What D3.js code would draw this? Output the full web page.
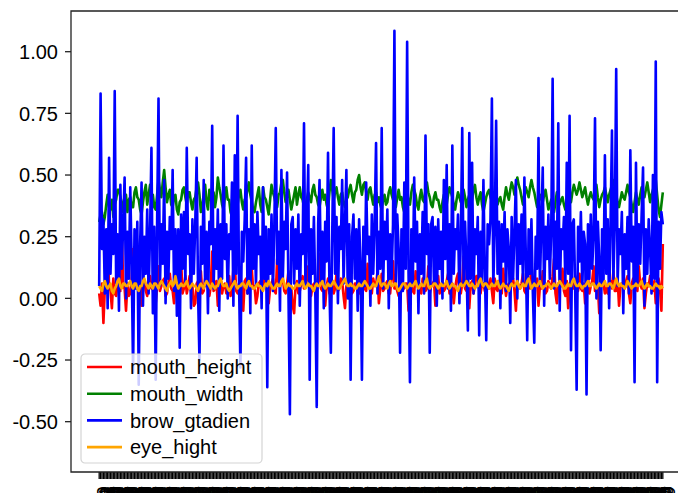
<!DOCTYPE html>
<html>
<head>
<meta charset="utf-8">
<script src="https://cdn.jsdelivr.net/npm/d3@7"></script>
<style>
  body { margin: 0; background: #fff; }
  svg { display: block; font-family: "Liberation Sans", Arial, sans-serif; }
</style>
</head>
<body>
<svg id="chart" width="678" height="493"></svg>
<script>
// Series values, one entry per frame (400 frames)
const mouthHeight = [
  0.02, -0.03, 0.06, -0.10, 0.04, 0.10, 0.24, 0.05, 0.03, -0.04, 0.08, 0.02, 0.01, 0.06, 0.12, 0.03, 0.28, 0.05, 0.04, -0.05,
  0.06, 0.01, 0.02, 0.08, 0.20, 0.04, 0.05, 0.10, 0.17, 0.02, -0.03, 0.06, 0.07, 0.03, 0.01, 0.09, 0.09, 0.04, 0.04, -0.02,
  -0.02, 0.05, 0.13, 0.03, 0.05, 0.07, 0.08, 0.01, 0.02, 0.06, 0.10, 0.04, 0.03, -0.02, 0.06, 0.08, -0.04, 0.05, 0.15, 0.02,
  0.04, 0.09, 0.02, 0.05, 0.09, 0.03, 0.05, -0.03, -0.02, 0.06, 0.07, 0.04, 0.11, 0.02, 0.03, 0.08, 0.06, 0.04, 0.01, 0.05,
  0.19, 0.03, 0.04, 0.07, -0.03, 0.05, 0.08, 0.02, 0.05, 0.06, 0.02, 0.04, 0.09, 0.01, 0.04, 0.12, 0.14, 0.03, 0.02, 0.06,
  0.06, 0.04, -0.05, 0.07, 0.08, 0.02, 0.03, 0.05, 0.12, 0.04, 0.05, -0.02, 0.01, 0.06, 0.07, 0.03, 0.04, 0.09, 0.10, 0.05,
  -0.02, 0.04, 0.06, 0.08, 0.03, 0.02, 0.16, 0.05, 0.05, 0.07, 0.08, 0.03, 0.02, 0.06, 0.11, 0.04, 0.04, -0.03, -0.06, 0.05,
  0.07, 0.02, 0.03, 0.06, 0.09, 0.04, 0.05, 0.08, 0.13, 0.03, 0.01, 0.05, 0.06, 0.02, 0.04, 0.07, 0.18, 0.04, 0.03, 0.06,
  -0.03, 0.05, 0.08, 0.02, 0.05, 0.06, 0.02, 0.04, 0.10, 0.03, 0.04, 0.08, 0.07, 0.01, -0.04, 0.05, 0.05, 0.07, 0.12, 0.02,
  0.03, 0.06, 0.06, 0.04, 0.02, 0.08, 0.09, 0.05, 0.04, 0.03, 0.14, 0.06, 0.03, 0.02, 0.08, 0.05, 0.05, 0.11, -0.02, 0.04,
  0.10, 0.03, 0.04, 0.06, 0.07, 0.02, 0.02, 0.09, 0.15, 0.04, 0.05, 0.03, 0.01, 0.07, 0.09, 0.04, 0.04, 0.06, 0.06, -0.05,
  0.08, 0.05, 0.03, 0.02, 0.11, 0.06, 0.05, 0.04, 0.02, 0.08, 0.07, 0.03, 0.04, 0.13, 0.02, 0.05, 0.06, 0.07, -0.03, 0.04,
  0.09, 0.02, 0.05, 0.06, 0.03, 0.04, 0.07, 0.10, 0.02, 0.05, 0.06, -0.02, 0.04, 0.08, 0.10, 0.03, 0.02, 0.06, 0.17, 0.04,
  0.03, 0.05, -0.04, 0.06, 0.07, 0.02, 0.05, 0.09, 0.09, 0.04, 0.02, 0.06, 0.06, 0.03, 0.11, 0.05, 0.04, 0.08, 0.03, -0.02,
  0.08, 0.04, 0.03, 0.07, 0.05, 0.02, 0.12, 0.06, 0.01, 0.05, 0.06, 0.03, 0.09, 0.08, 0.03, -0.05, 0.07, 0.05, 0.04, 0.06,
  0.10, 0.03, 0.02, 0.08, 0.06, 0.04, 0.14, 0.05, 0.03, 0.07, 0.08, -0.03, 0.05, 0.04, 0.11, 0.06, 0.02, 0.03, 0.07, 0.05,
  0.04, 0.09, 0.16, 0.02, -0.02, 0.06, 0.06, 0.05, 0.12, 0.03, 0.01, 0.07, -0.04, 0.04, 0.08, 0.05, 0.04, 0.09, 0.07, 0.03,
  0.10, 0.04, 0.03, 0.06, -0.02, 0.08, 0.09, 0.02, 0.05, 0.07, 0.13, 0.03, 0.04, 0.05, -0.06, 0.04, 0.08, 0.06, 0.02, 0.05,
  0.02, 0.06, 0.07, 0.04, 0.11, 0.03, 0.03, 0.08, -0.03, 0.05, 0.06, 0.04, 0.04, 0.07, 0.09, 0.02, -0.02, 0.06, 0.08, 0.04,
  0.05, 0.03, 0.13, 0.06, 0.04, 0.08, -0.04, 0.02, 0.06, 0.05, 0.09, 0.04, 0.03, 0.07, -0.02, 0.05, 0.08, 0.04, -0.05, 0.22
];

const mouthWidth = [
  0.31, 0.34, 0.35, 0.30, 0.33, 0.38, 0.42, 0.37, 0.36, 0.40, 0.33, 0.38, 0.40, 0.44, 0.44, 0.41, 0.39, 0.35, 0.37, 0.42,
  0.35, 0.40, 0.41, 0.37, 0.37, 0.43, 0.45, 0.41, 0.40, 0.36, 0.34, 0.39, 0.43, 0.46, 0.38, 0.42, 0.46, 0.40, 0.42, 0.37,
  0.36, 0.42, 0.48, 0.44, 0.41, 0.47, 0.52, 0.45, 0.39, 0.42, 0.44, 0.38, 0.37, 0.41, 0.42, 0.36, 0.34, 0.39, 0.40, 0.44,
  0.45, 0.41, 0.38, 0.43, 0.43, 0.39, 0.36, 0.40, 0.41, 0.45, 0.47, 0.42, 0.35, 0.38, 0.42, 0.46, 0.39, 0.36, 0.44, 0.40,
  0.40, 0.43, 0.37, 0.41, 0.49, 0.45, 0.42, 0.38, 0.36, 0.41, 0.45, 0.40, 0.40, 0.35, 0.33, 0.38, 0.43, 0.46, 0.38, 0.42,
  0.44, 0.39, 0.36, 0.40, 0.41, 0.44, 0.47, 0.42, 0.39, 0.36, 0.35, 0.39, 0.42, 0.45, 0.38, 0.35, 0.45, 0.41, 0.40, 0.37,
  0.34, 0.40, 0.46, 0.43, 0.41, 0.38, 0.37, 0.42, 0.43, 0.47, 0.48, 0.43, 0.39, 0.41, 0.44, 0.40, 0.36, 0.39, 0.42, 0.45,
  0.38, 0.42, 0.45, 0.41, 0.40, 0.37, 0.35, 0.40, 0.43, 0.41, 0.39, 0.44, 0.46, 0.42, 0.41, 0.38, 0.37, 0.41, 0.44, 0.40,
  0.42, 0.38, 0.36, 0.43, 0.48, 0.44, 0.40, 0.43, 0.45, 0.41, 0.38, 0.42, 0.43, 0.39, 0.37, 0.40, 0.41, 0.44, 0.46, 0.42,
  0.39, 0.43, 0.44, 0.48, 0.50, 0.45, 0.42, 0.46, 0.47, 0.43, 0.40, 0.44, 0.45, 0.41, 0.38, 0.42, 0.43, 0.39, 0.41, 0.38,
  0.36, 0.40, 0.42, 0.38, 0.39, 0.43, 0.45, 0.42, 0.40, 0.38, 0.37, 0.41, 0.44, 0.40, 0.41, 0.37, 0.35, 0.40, 0.43, 0.39,
  0.38, 0.43, 0.46, 0.44, 0.42, 0.38, 0.36, 0.41, 0.44, 0.40, 0.39, 0.44, 0.47, 0.43, 0.41, 0.38, 0.37, 0.41, 0.43, 0.40,
  0.40, 0.37, 0.35, 0.39, 0.42, 0.40, 0.38, 0.42, 0.45, 0.43, 0.41, 0.38, 0.36, 0.40, 0.43, 0.41, 0.39, 0.42, 0.44, 0.41,
  0.37, 0.40, 0.42, 0.41, 0.40, 0.44, 0.46, 0.41, 0.38, 0.41, 0.43, 0.38, 0.35, 0.38, 0.41, 0.43, 0.44, 0.41, 0.39, 0.41,
  0.43, 0.40, 0.38, 0.40, 0.41, 0.38, 0.36, 0.41, 0.45, 0.42, 0.40, 0.44, 0.47, 0.45, 0.42, 0.46, 0.49, 0.46, 0.44, 0.41,
  0.38, 0.42, 0.45, 0.43, 0.41, 0.45, 0.48, 0.45, 0.43, 0.40, 0.37, 0.40, 0.42, 0.40, 0.39, 0.42, 0.44, 0.40, 0.36, 0.38,
  0.40, 0.37, 0.35, 0.39, 0.43, 0.40, 0.38, 0.40, 0.41, 0.38, 0.36, 0.40, 0.44, 0.41, 0.39, 0.43, 0.46, 0.44, 0.42, 0.44,
  0.47, 0.44, 0.41, 0.43, 0.45, 0.41, 0.38, 0.41, 0.43, 0.41, 0.40, 0.43, 0.46, 0.41, 0.37, 0.40, 0.42, 0.43, 0.45, 0.42,
  0.39, 0.42, 0.44, 0.46, 0.48, 0.45, 0.42, 0.39, 0.37, 0.40, 0.43, 0.41, 0.40, 0.43, 0.46, 0.43, 0.41, 0.38, 0.35, 0.39,
  0.43, 0.40, 0.38, 0.42, 0.45, 0.43, 0.41, 0.44, 0.47, 0.43, 0.39, 0.42, 0.44, 0.46, 0.48, 0.42, 0.36, 0.33, 0.38, 0.43
];

const browGradient = [
  0.05, 0.83, 0.20, 0.32, 0.02, 0.28, -0.04, 0.57, 0.10, 0.30, 0.18, 0.84, 0.06, 0.26, -0.05, 0.46, 0.12, 0.30, 0.49, 0.00,
  0.27, 0.08, 0.45, 0.15, -0.30, 0.28, 0.04, 0.31, -0.35, 0.22, 0.47, -0.03, 0.25, 0.10, 0.36, 0.02, 0.26, 0.61, -0.06, 0.29,
  -0.33, 0.30, 0.81, 0.05, 0.30, 0.14, 0.48, -0.02, 0.27, 0.08, 0.33, 0.20, 0.52, 0.03, 0.28, -0.07, 0.28, -0.20, 0.34, 0.12,
  0.35, 0.06, 0.61, 0.18, 0.26, -0.04, 0.32, 0.10, 0.30, 0.57, 0.02, -0.25, 0.29, 0.14, 0.48, 0.05, 0.27, -0.06, 0.31, 0.22,
  0.70, 0.04, 0.28, 0.12, 0.36, -0.05, 0.30, 0.08, 0.62, 0.16, 0.30, 0.00, 0.26, 0.20, 0.47, -0.03, 0.58, 0.10, 0.74, 0.06,
  -0.28, 0.27, 0.15, 0.32, 0.57, 0.02, 0.28, -0.06, 0.62, 0.12, 0.30, 0.05, 0.35, 0.18, 0.25, -0.04, 0.45, 0.08, 0.29, -0.36,
  0.28, 0.10, 0.34, 0.03, 0.30, 0.69, 0.14, 0.27, -0.05, 0.52, 0.08, 0.31, 0.20, 0.51, 0.02, -0.47, 0.30, 0.33, 0.06, 0.28,
  0.12, 0.34, -0.03, 0.26, 0.18, 0.71, 0.05, 0.30, 0.54, -0.33, 0.28, 0.10, 0.33, 0.02, -0.44, 0.30, 0.48, 0.07, 0.27, -0.04,
  0.31, 0.15, 0.59, 0.04, -0.22, 0.27, 0.69, 0.10, 0.33, -0.02, 0.29, 0.20, 0.48, 0.06, 0.30, 0.52, 0.00, 0.30, -0.33, 0.25,
  0.34, 0.08, 0.28, -0.05, 0.32, 0.14, -0.33, 0.29, 0.05, 0.47, 0.18, 0.25, -0.03, 0.34, 0.10, 0.30, 0.63, 0.02, 0.27, 0.12,
  0.69, 0.04, 0.31, 0.16, 0.36, -0.04, 0.26, 0.08, 0.30, 1.085, 0.06, 0.34, 0.20, -0.22, 0.28, 0.03, 0.47, 0.12, 1.04, 0.10,
  -0.34, 0.28, 0.05, 0.49, 0.15, 0.31, -0.06, 0.26, 0.10, 0.35, 0.02, 0.66, 0.18, 0.30, -0.22, 0.30, 0.33, 0.06, 0.29, -0.03,
  0.32, 0.12, 0.27, 0.00, 0.48, 0.16, 0.54, 0.04, 0.30, -0.05, 0.62, 0.10, 0.28, 0.20, 0.34, -0.02, 0.25, 0.69, 0.06, 0.31,
  0.14, -0.13, 0.67, 0.08, 0.55, 0.02, 0.28, 0.18, 0.33, -0.15, 0.27, 0.06, 0.48, 0.12, -0.17, 0.30, 0.22, 0.32, 0.81, 0.05,
  0.28, 0.72, 0.10, 0.31, -0.04, 0.30, 0.15, 0.35, 0.03, 0.28, 0.20, -0.10, 0.33, 0.08, 0.27, 0.48, 0.00, 0.30, 0.14, 0.34,
  0.06, 0.49, 0.18, -0.17, 0.28, 0.10, 0.32, 0.02, -0.18, 0.25, 0.12, 0.65, 0.05, 0.30, 0.53, -0.03, 0.29, 0.16, 0.34, 0.08,
  0.27, 0.89, 0.04, 0.31, 0.12, 0.71, -0.05, 0.28, 0.20, 0.33, 0.06, 0.55, 0.10, 0.74, -0.21, 0.30, 0.32, 0.02, -0.37, 0.29,
  0.15, 0.35, 0.04, 0.27, 0.22, -0.39, 0.30, 0.08, 0.34, 0.12, 0.26, 0.73, 0.00, 0.31, 0.16, -0.21, 0.28, 0.06, 0.58, 0.10,
  0.32, -0.04, 0.30, 0.68, 0.08, 0.30, 0.93, 0.05, 0.28, 0.18, 0.35, -0.06, 0.26, 0.12, 0.33, 0.02, 0.60, 0.15, 0.29, -0.34,
  0.55, 0.06, 0.30, 0.14, 0.34, 0.53, -0.03, 0.28, 0.10, 0.32, 0.20, 0.02, 0.50, 0.08, 0.96, -0.34, 0.31, 0.12, 0.35, 0.30
];

const eyeHeight = [
  0.05, 0.04, 0.03, 0.06, 0.07, 0.05, 0.04, 0.05, 0.06, 0.03, 0.02, 0.04, 0.05, 0.07, 0.08, 0.05, 0.04, 0.06, 0.06, 0.05,
  0.05, 0.06, 0.07, 0.05, 0.04, 0.06, 0.06, 0.04, 0.03, 0.05, 0.05, 0.07, 0.08, 0.06, 0.05, 0.04, 0.06, 0.05, 0.04, 0.06,
  0.06, 0.05, 0.04, 0.06, 0.07, 0.06, 0.05, 0.04, 0.03, 0.05, 0.06, 0.07, 0.05, 0.06, 0.09, 0.06, 0.04, 0.05, 0.06, 0.05,
  0.05, 0.06, 0.07, 0.05, 0.04, 0.05, 0.06, 0.05, 0.05, 0.04, 0.03, 0.05, 0.06, 0.05, 0.04, 0.06, 0.07, 0.06, 0.05, 0.04,
  0.06, 0.05, 0.04, 0.05, 0.05, 0.07, 0.08, 0.06, 0.05, 0.05, 0.06, 0.04, 0.03, 0.04, 0.05, 0.06, 0.07, 0.05, 0.04, 0.05,
  0.05, 0.06, 0.06, 0.05, 0.04, 0.06, 0.07, 0.05, 0.05, 0.04, 0.04, 0.05, 0.06, 0.05, 0.05, 0.04, 0.03, 0.05, 0.06, 0.05,
  0.07, 0.06, 0.05, 0.04, 0.04, 0.05, 0.06, 0.05, 0.05, 0.07, 0.08, 0.06, 0.04, 0.05, 0.06, 0.05, 0.05, 0.04, 0.04, 0.05,
  0.06, 0.05, 0.05, 0.06, 0.07, 0.05, 0.04, 0.05, 0.06, 0.05, 0.05, 0.04, 0.03, 0.05, 0.06, 0.05, 0.05, 0.06, 0.07, 0.05,
  0.04, 0.05, 0.06, 0.05, 0.05, 0.06, 0.07, 0.06, 0.05, 0.04, 0.04, 0.05, 0.06, 0.07, 0.08, 0.06, 0.05, 0.05, 0.06, 0.05,
  0.05, 0.04, 0.04, 0.05, 0.06, 0.05, 0.05, 0.06, 0.07, 0.06, 0.05, 0.04, 0.04, 0.05, 0.06, 0.05, 0.05, 0.07, 0.09, 0.06,
  0.05, 0.06, 0.06, 0.05, 0.04, 0.06, 0.07, 0.05, 0.05, 0.06, 0.06, 0.04, 0.03, 0.04, 0.05, 0.06, 0.06, 0.05, 0.04, 0.05,
  0.06, 0.05, 0.05, 0.06, 0.07, 0.05, 0.04, 0.05, 0.06, 0.05, 0.05, 0.07, 0.08, 0.05, 0.04, 0.05, 0.05, 0.06, 0.06, 0.05,
  0.04, 0.05, 0.06, 0.05, 0.05, 0.06, 0.07, 0.05, 0.04, 0.05, 0.06, 0.05, 0.05, 0.04, 0.03, 0.05, 0.06, 0.05, 0.05, 0.06,
  0.07, 0.06, 0.05, 0.05, 0.06, 0.05, 0.04, 0.05, 0.05, 0.07, 0.08, 0.06, 0.05, 0.06, 0.06, 0.05, 0.04, 0.05, 0.06, 0.05,
  0.05, 0.06, 0.07, 0.05, 0.04, 0.05, 0.06, 0.05, 0.05, 0.04, 0.03, 0.05, 0.06, 0.05, 0.05, 0.06, 0.07, 0.05, 0.04, 0.05,
  0.06, 0.05, 0.05, 0.07, 0.08, 0.06, 0.04, 0.05, 0.06, 0.05, 0.05, 0.06, 0.07, 0.05, 0.04, 0.05, 0.05, 0.06, 0.06, 0.05,
  0.04, 0.05, 0.06, 0.05, 0.05, 0.06, 0.07, 0.06, 0.05, 0.04, 0.04, 0.05, 0.06, 0.05, 0.05, 0.07, 0.08, 0.06, 0.05, 0.05,
  0.06, 0.05, 0.04, 0.05, 0.05, 0.06, 0.07, 0.05, 0.05, 0.06, 0.06, 0.05, 0.04, 0.05, 0.06, 0.05, 0.05, 0.06, 0.07, 0.05,
  0.05, 0.06, 0.06, 0.05, 0.04, 0.06, 0.08, 0.06, 0.05, 0.06, 0.05, 0.05, 0.04, 0.05, 0.07, 0.06, 0.05, 0.04, 0.05, 0.05,
  0.06, 0.05, 0.05, 0.06, 0.07, 0.05, 0.04, 0.05, 0.06, 0.05, 0.05, 0.04, 0.04, 0.05, 0.06, 0.05, 0.05, 0.04, 0.05, 0.04
];

const seriesNames = ["mouth_height", "mouth_width", "brow_gtadien", "eye_hight"];
const seriesColors = ["#ff0000", "#008000", "#0000ff", "#ffa500"];
const yTicks = [-0.5, -0.25, 0, 0.25, 0.5, 0.75, 1.0];
// one label per frame (dense, they overlap into a black band)
const xLabels = mouthHeight.map((d, i) => "frame_" + String(i).padStart(4, "0"));

const seriesData = [mouthHeight, mouthWidth, browGradient, eyeHeight];

const svg = d3.select("#chart");
const fontSize = 20;

// axes box (right edge sits beyond the cropped picture)
const box = { left: 71, top: 11, right: 691, bottom: 472 };
const n = mouthHeight.length;
const pad = (n - 1) * 0.05;

const xScale = d3.scaleLinear()
  .domain([-pad, n - 1 + pad])
  .range([box.left, box.right]);

const yScale = d3.scaleLinear()
  .domain([-0.704, 1.165])
  .range([box.bottom, box.top]);

svg.append("rect")
  .attr("width", 678).attr("height", 493)
  .attr("fill", "#fff");

// lines, matplotlib order: red, green, blue, orange on top
const line = d3.line()
  .x((d, i) => xScale(i))
  .y(d => yScale(d));

seriesData.forEach((values, k) => {
  svg.append("path")
    .datum(values)
    .attr("fill", "none")
    .attr("stroke", seriesColors[k])
    .attr("stroke-width", 2.6)
    .attr("stroke-linejoin", "round")
    .attr("d", line);
});

// y axis
const yAxis = svg.append("g").attr("transform", `translate(${box.left},0)`);
yTicks.forEach(t => {
  const y = yScale(t);
  yAxis.append("line")
    .attr("x1", -6).attr("x2", 0)
    .attr("y1", y).attr("y2", y)
    .attr("stroke", "#222").attr("stroke-width", 1.3);
  yAxis.append("text")
    .attr("x", -13).attr("y", y)
    .attr("dy", "0.36em")
    .attr("text-anchor", "end")
    .attr("font-size", fontSize)
    .attr("fill", "#000")
    .text(t.toFixed(2));
});

// x axis: one tick per frame, vertical labels
const xAxis = svg.append("g");
xLabels.forEach((lab, i) => {
  const x = xScale(i);
  xAxis.append("line")
    .attr("x1", x).attr("x2", x)
    .attr("y1", box.bottom).attr("y2", box.bottom + 7)
    .attr("stroke", "#000").attr("stroke-width", 1.3);
  xAxis.append("text")
    .attr("transform", `translate(${x},${box.bottom + 14}) rotate(-90)`)
    .attr("dy", "0.6em")
    .attr("text-anchor", "end")
    .attr("font-size", fontSize)
    .attr("fill", "#000")
    .text(lab);
});

// frame
svg.append("path")
  .attr("d", `M${box.right},${box.top}H${box.left}V${box.bottom}H${box.right}`)
  .attr("fill", "none")
  .attr("stroke", "#222")
  .attr("stroke-width", 1.3);

// legend, lower left
const legend = svg.append("g").attr("transform", "translate(81,354)");
legend.append("rect")
  .attr("width", 181).attr("height", 109)
  .attr("rx", 4)
  .attr("fill", "#fff").attr("fill-opacity", 0.8)
  .attr("stroke", "#d4d4d4").attr("stroke-width", 1.2);

seriesNames.forEach((name, k) => {
  const y = 13 + k * 26.7;
  legend.append("line")
    .attr("x1", 6).attr("x2", 41)
    .attr("y1", y).attr("y2", y)
    .attr("stroke", seriesColors[k])
    .attr("stroke-width", 2.6);
  legend.append("text")
    .attr("x", 49).attr("y", y)
    .attr("dy", "0.36em")
    .attr("font-size", fontSize)
    .attr("fill", "#000")
    .text(name);
});
</script>
</body>
</html>
